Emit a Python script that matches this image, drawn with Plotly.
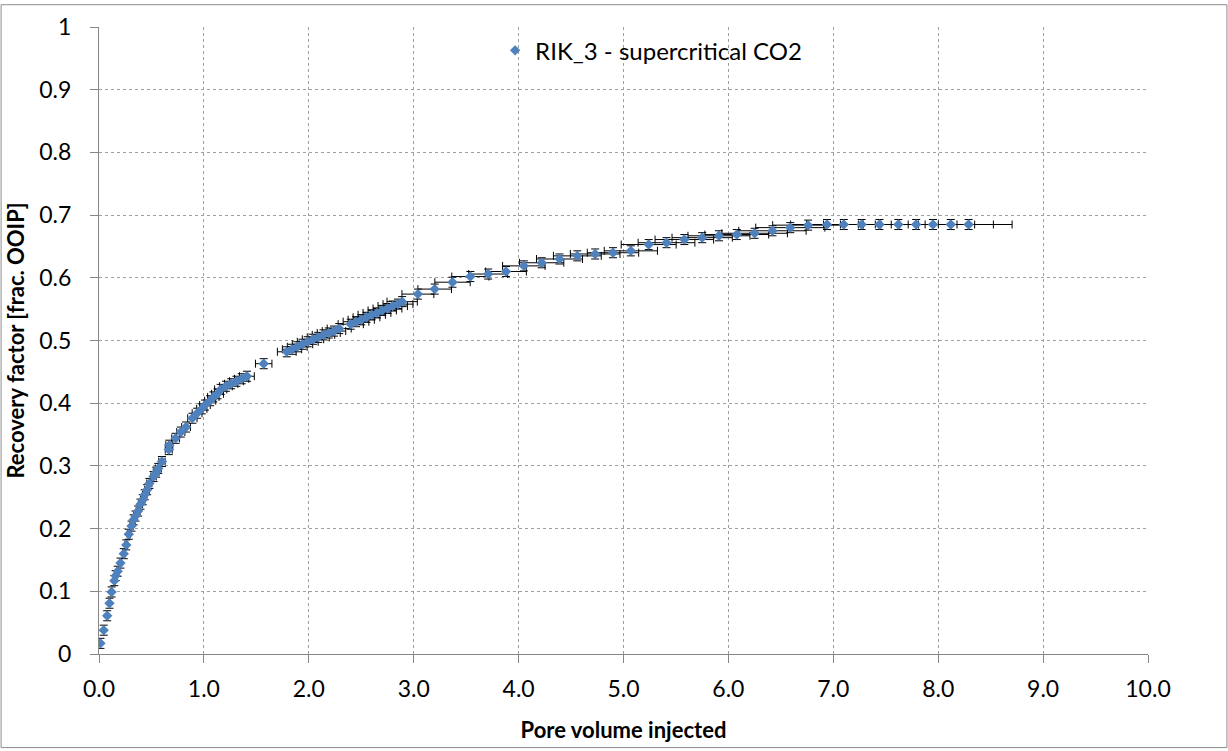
import plotly.graph_objects as go

# Cumulative pore volumes injected and the matching recovery factor (fraction of OOIP)
pore_volume = [
    0.014, 0.045, 0.078, 0.10, 0.12, 0.146, 0.159, 0.178, 0.205, 0.236,
    0.26, 0.284, 0.31, 0.33, 0.348, 0.373, 0.395, 0.417, 0.436, 0.459,
    0.48, 0.52, 0.545, 0.565, 0.60, 0.665, 0.67, 0.73, 0.78, 0.83,
    0.89, 0.935, 0.98, 1.01, 1.06, 1.09, 1.13, 1.16, 1.21, 1.26,
    1.31, 1.36, 1.41, 1.57,
    1.79, 1.84, 1.89, 1.94, 1.99, 2.04, 2.09, 2.14, 2.19, 2.24, 2.29,
    2.40, 2.45, 2.50, 2.55, 2.60, 2.65, 2.70, 2.75, 2.80, 2.85, 2.89,
    3.04, 3.20, 3.37, 3.54, 3.71, 3.88, 4.05, 4.22, 4.39, 4.56, 4.73, 4.90,
    5.07, 5.24, 5.41, 5.58, 5.75, 5.91, 6.08, 6.25, 6.42, 6.59, 6.76,
    6.94, 7.10, 7.27, 7.44, 7.62, 7.79, 7.95, 8.12, 8.29,
]
recovery = [
    0.017, 0.038, 0.061, 0.081, 0.099, 0.117, 0.125, 0.132, 0.145, 0.160,
    0.174, 0.191, 0.204, 0.214, 0.220, 0.228, 0.239, 0.246, 0.254, 0.262,
    0.272, 0.283, 0.290, 0.296, 0.307, 0.326, 0.333, 0.344, 0.354, 0.362,
    0.376, 0.384, 0.391, 0.397, 0.404, 0.410, 0.415, 0.422, 0.427, 0.431,
    0.435, 0.439, 0.443, 0.463,
    0.482, 0.486, 0.490, 0.494, 0.498, 0.502, 0.505, 0.509, 0.512, 0.515, 0.519,
    0.526, 0.530, 0.533, 0.537, 0.541, 0.544, 0.548, 0.551, 0.555, 0.558, 0.562,
    0.574, 0.582, 0.593, 0.602, 0.606, 0.610, 0.619, 0.624, 0.630, 0.635, 0.638, 0.640,
    0.643, 0.653, 0.656, 0.661, 0.664, 0.667, 0.669, 0.671, 0.675, 0.680, 0.684,
    0.685, 0.685, 0.685, 0.685, 0.685, 0.685, 0.685, 0.685, 0.685,
]

series_name = "RIK_3 - supercritical CO2"
x_ticks = [0, 1, 2, 3, 4, 5, 6, 7, 8, 9, 10]
y_ticks = [0, 0.1, 0.2, 0.3, 0.4, 0.5, 0.6, 0.7, 0.8, 0.9, 1]

FONT = "Lato"
W, H = 1228, 751
L, R, T, B = 98.5, 79.5, 23, 95

fig = go.Figure()
fig.add_trace(go.Scatter(
    x=pore_volume,
    y=recovery,
    mode="markers",
    name=series_name,
    marker=dict(symbol="diamond", size=8, color="#4F81BD"),
    error_x=dict(type="percent", value=5, color="#000000", thickness=1, width=4),
    error_y=dict(type="constant", value=0.008, color="#000000", thickness=1, width=4),
))

grid = dict(showgrid=True, gridcolor="#a0a0a0", gridwidth=1, griddash="3px,3px")

fig.update_layout(
    width=W,
    height=H,
    margin=dict(l=L, r=R, t=T, b=B, pad=0),
    paper_bgcolor="white",
    plot_bgcolor="white",
    font=dict(family=FONT, size=23, color="#000000"),
    showlegend=True,
    legend=dict(
        x=(495 - L) / (W - L - R), xanchor="left",
        y=(H - B - 47) / (H - B - T), yanchor="middle",
        bgcolor="rgba(0,0,0,0)",
        font=dict(family=FONT, size=24, color="#000000"),
        itemwidth=30,
    ),
    xaxis=dict(
        range=[0, 10],
        tickvals=x_ticks,
        tickformat=".1f",
        showline=True, linecolor="#868686", linewidth=1,
        ticks="outside", ticklen=8, tickcolor="#868686",
        ticklabelstandoff=6,
        zeroline=False,
        title=dict(text="<b>Pore volume injected</b>",
                   font=dict(family=FONT, size=22), standoff=22),
        **grid,
    ),
    yaxis=dict(
        range=[0, 1],
        tickvals=y_ticks,
        showline=True, linecolor="#868686", linewidth=1,
        ticks="outside", ticklen=8, tickcolor="#868686",
        ticklabelstandoff=14,
        zeroline=False,
        title=dict(text="<b>Recovery factor [frac. OOIP]</b>",
                   font=dict(family=FONT, size=22), standoff=8),
        **grid,
    ),
)

# Thin frame around the whole chart area
pw, ph = W - L - R, H - B - T
fig.add_shape(
    type="rect", xref="paper", yref="paper",
    x0=(0.5 - L) / pw, x1=(W - 0.5 - L) / pw,
    y0=(H - B - (H - 0.5)) / ph, y1=(H - B - 0.5) / ph,
    line=dict(color="#8c8c8c", width=1), fillcolor="rgba(0,0,0,0)",
    layer="below",
)

fig.write_html("out.html")
